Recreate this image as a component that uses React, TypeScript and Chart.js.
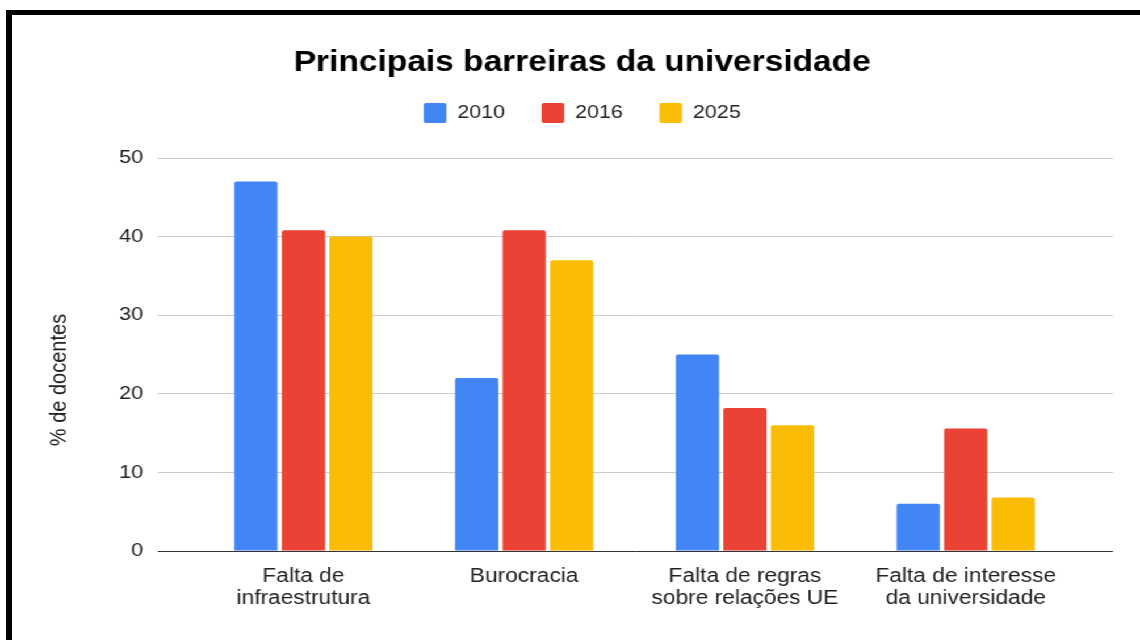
import React, { useEffect, useRef } from "react";
import { Chart, registerables } from "chart.js";

Chart.register(...registerables);

// ---- data ----
const chartTitle = "Principais barreiras da universidade";
const yAxisTitle = "% de docentes";
const categories: string[][] = [
  ["Falta de", "infraestrutura"],
  ["Burocracia"],
  ["Falta de regras", "sobre relações UE"],
  ["Falta de interesse", "da universidade"],
];
const seriesNames = ["2010", "2016", "2025"];
const values2010 = [47, 22, 25, 6];
const values2016 = [40.8, 40.8, 18.2, 15.6];
const values2025 = [40, 37, 16, 6.8];
const seriesColors = ["#4285F4", "#EA4335", "#FBBC04"];
const yMin = 0;
const yMax = 50;
const yStep = 10;

// ---- layout (logical canvas, stretched horizontally to 1140) ----
const W = 1004;
const H = 640;
const SX = 1140 / W;
const FONT = '"Liberation Sans", Arial, Helvetica, sans-serif';

const yTitlePlugin = {
  id: "yTitlePlugin",
  afterDraw(chart: any) {
    const ctx = chart.ctx;
    ctx.save();
    ctx.font = `20px ${FONT}`;
    ctx.fillStyle = "#222222";
    ctx.textAlign = "center";
    ctx.textBaseline = "middle";
    ctx.translate(52.4, 380);
    ctx.rotate(-Math.PI / 2);
    ctx.fillText(yAxisTitle, 0, 0);
    ctx.restore();
  },
};

export default function App() {
  const ref = useRef<HTMLCanvasElement | null>(null);

  useEffect(() => {
    if (!ref.current) return;
    Chart.defaults.font.family = FONT;
    const allSeries = [values2010, values2016, values2025];
    const chart = new Chart(ref.current, {
      type: "bar",
      data: {
        datasets: allSeries.map((vals, si) => ({
          label: seriesNames[si],
          data: vals.map((v, i) => ({ x: i, y: v })),
          backgroundColor: seriesColors[si],
          borderWidth: 0,
          borderRadius: 2,
          categoryPercentage: 0.6455,
          barPercentage: 0.911,
          xAxisID: "x",
          yAxisID: "y",
        })),
      },
      options: {
        animation: false,
        responsive: false,
        devicePixelRatio: 1,
        layout: { padding: { left: 45.4, right: 23.8, top: 0, bottom: 0 } },
        plugins: {
          title: {
            display: true,
            text: chartTitle,
            color: "#000000",
            font: { size: 29.5, weight: "bold", family: FONT, lineHeight: 1.2 },
            padding: { top: 45.3, bottom: -9.7 },
          },
          legend: {
            display: true,
            position: "top",
            labels: {
              boxWidth: 20,
              boxHeight: 20,
              padding: 32,
              color: "#222222",
              font: { size: 19, family: FONT },
              useBorderRadius: true,
              borderRadius: 2,
            },
          },
          tooltip: { enabled: false },
        },
        scales: {
          x: {
            type: "linear",
            position: "bottom",
            offset: false,
            min: -0.659,
            max: 3.667,
            afterBuildTicks: (axis: any) => {
              axis.ticks = categories.map((_, i) => ({ value: i }));
            },
            afterFit: (s: any) => {
              s.height = 89;
            },
            grid: { display: false, drawTicks: false, offset: false },
            border: { display: false },
            ticks: {
              autoSkip: false,
              maxRotation: 0,
              minRotation: 0,
              padding: 14.5,
              color: "#222222",
              font: { size: 20, family: FONT, lineHeight: 1.1 },
              callback: (value: any) => categories[value as number] ?? "",
            },
          },
          xTop: {
            type: "linear",
            position: "top",
            display: true,
            offset: false,
            afterFit: (s: any) => {
              s.height = 25;
            },
            grid: { display: false, drawTicks: false },
            border: { display: false },
            ticks: { display: false },
          },
          y: {
            type: "linear",
            position: "left",
            min: yMin,
            max: yMax,
            afterFit: (s: any) => {
              s.width = 93.7;
            },
            ticks: {
              stepSize: yStep,
              padding: 13,
              color: "#222222",
              font: { size: 19, family: FONT },
            },
            grid: {
              drawTicks: false,
              lineWidth: 1,
              color: (ctx: any) =>
                ctx.tick && ctx.tick.value === 0 ? "#333333" : "#cccccc",
            },
            border: { display: false },
          },
        },
      },
      plugins: [yTitlePlugin],
    } as any);
    return () => chart.destroy();
  }, []);

  return (
    <div>
      <div
        style={{
          position: "fixed",
          left: 0,
          top: 0,
          width: W,
          height: H,
          background: "#ffffff",
          transform: `scaleX(${SX})`,
          transformOrigin: "0 0",
        }}
      >
        <canvas ref={ref} width={W} height={H} style={{ display: "block" }} />
      </div>
      <div
        style={{
          position: "fixed",
          left: 6,
          top: 10,
          width: 1200,
          height: 700,
          borderTop: "5px solid #000000",
          borderLeft: "6px solid #000000",
          boxSizing: "border-box",
          pointerEvents: "none",
        }}
      />
    </div>
  );
}
